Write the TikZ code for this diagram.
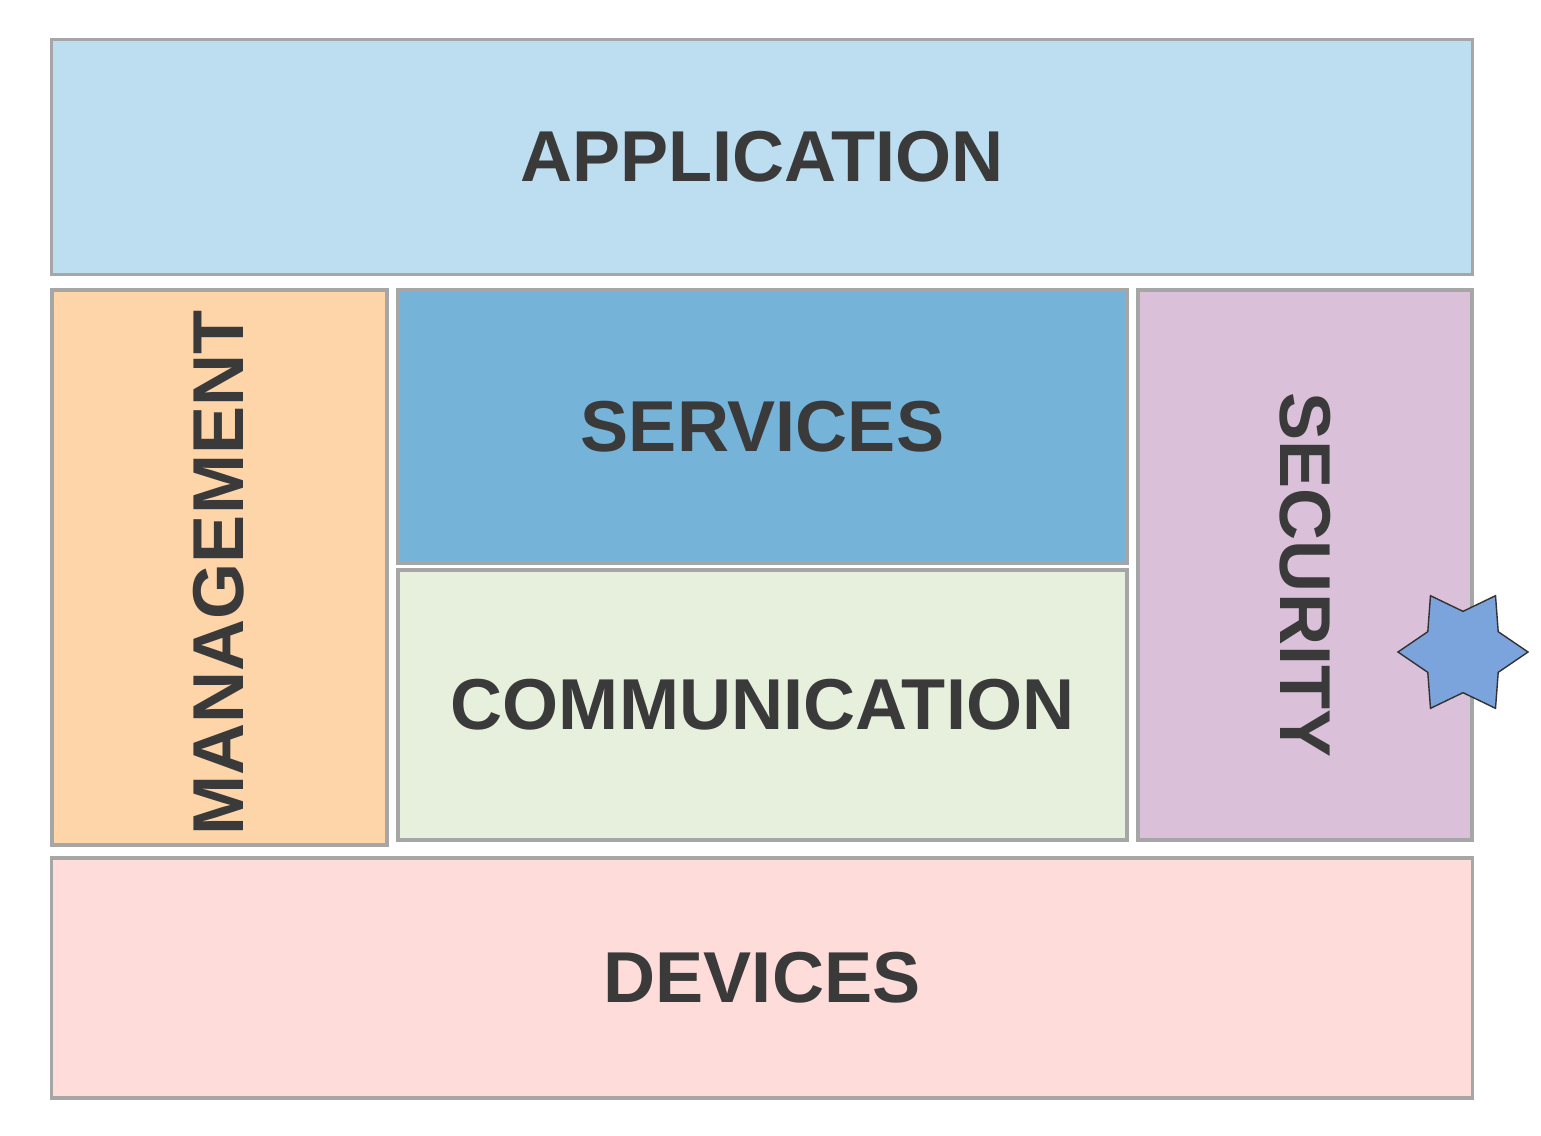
\documentclass[tikz,border=0pt]{standalone}
\usepackage{fontspec}
\setmainfont{Liberation Sans}
\usetikzlibrary{shapes.geometric}
\definecolor{appblue}{HTML}{BDDDF0}
\definecolor{mgmtorange}{HTML}{FDD5A8}
\definecolor{srvblue}{HTML}{76B3D8}
\definecolor{commgreen}{HTML}{E7F0DC}
\definecolor{secpurple}{HTML}{DBC0DA}
\definecolor{devpink}{HTML}{FDDCDA}
\definecolor{starblue}{HTML}{7BA3DC}
\definecolor{txtgray}{HTML}{3A3A3A}
\tikzset{
  layer/.style = {shape=rectangle, draw=gray!70, line width=1pt,
                  inner sep=0pt, font=\fontsize{20.5}{22}\selectfont\bfseries,
                  text=txtgray},
  sixstar/.style = {star, star points=6, star point ratio=1.6, draw=black!80,
                  fill=starblue, minimum size=1.3cm, inner sep=0pt, rotate=30}
}
\begin{document}
\begin{tikzpicture}[x=0.01cm, y=-0.01cm]
  \useasboundingbox (0,0) rectangle (1541,1135);
  \node [layer, fill=appblue, minimum width=14.2cm, minimum height=2.35cm]
    (app) at (762,157) {APPLICATION};
  \node [layer, fill=mgmtorange, minimum width=3.35cm, minimum height=5.55cm]
    (mgmt) at (219.5,567.5) {};
  \node [font=\fontsize{20.5}{22}\selectfont\bfseries, text=txtgray, rotate=90]
    (mgmtlabel) at (219,573) {MANAGEMENT};
  \node [layer, fill=srvblue, minimum width=7.29cm, minimum height=2.73cm]
    (srv) at (762.5,426.5) {SERVICES};
  \node [layer, fill=commgreen, minimum width=7.29cm, minimum height=2.70cm]
    (comm) at (762.5,705) {COMMUNICATION};
  \node [layer, fill=secpurple, minimum width=3.34cm, minimum height=5.50cm]
    (sec) at (1305,565) {};
  \node [font=\fontsize{20.5}{22}\selectfont\bfseries, text=txtgray, rotate=-90]
    (seclabel) at (1305,575) {SECURITY};
  \node [layer, fill=devpink, minimum width=14.2cm, minimum height=2.40cm]
    (dev) at (762,978) {DEVICES};
  \node [sixstar] (star) at (1463,652) {};
\end{tikzpicture}
\end{document}
